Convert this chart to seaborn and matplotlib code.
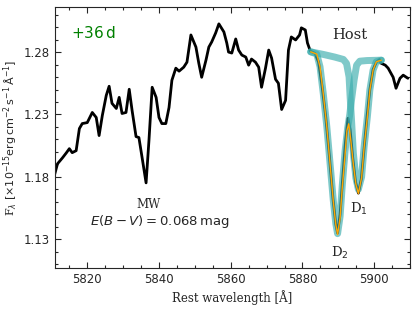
import numpy as np
import pandas as pd
import matplotlib
matplotlib.use("Agg")
import matplotlib.pyplot as plt
import seaborn as sns
from matplotlib.ticker import MultipleLocator

# observed spectrum (rest wavelength, flux)
wave = [5810.8, 5811.7, 5813.1, 5814.2, 5815.0, 5815.8, 5816.9, 5817.8, 5818.6, 5820.0,
        5821.4, 5822.5, 5823.3, 5824.2, 5825.3, 5826.1, 5826.9, 5828.1, 5828.9, 5829.7,
        5830.8, 5831.7, 5832.5, 5833.6, 5834.4, 5835.3, 5836.4, 5837.2, 5838.1, 5839.2,
        5840.0, 5840.8, 5841.9, 5842.8, 5843.6, 5844.7, 5845.6, 5846.9, 5847.8, 5848.9,
        5850.3, 5851.1, 5851.9, 5853.1, 5853.9, 5854.7, 5855.8, 5856.7, 5858.1, 5858.9,
        5859.4, 5860.3, 5861.4, 5862.2, 5863.1, 5864.2, 5865.0, 5865.8, 5866.9, 5867.8,
        5868.6, 5869.7, 5870.6, 5871.4, 5872.5, 5873.3, 5874.2, 5875.3, 5876.1, 5876.9,
        5878.1, 5879.2, 5879.7, 5880.8, 5881.4, 5882.2, 5883.5, 5884.5, 5885.5, 5886.5,
        5887.5, 5888.5, 5889.3, 5889.8, 5890.5, 5891.2, 5892.0, 5892.7, 5893.3, 5894.0,
        5894.8, 5895.6, 5896.4, 5897.2, 5898.0, 5898.8, 5899.7, 5900.6, 5901.5, 5901.9,
        5903.1, 5903.9, 5905.3, 5906.1, 5907.2, 5908.1, 5909.4]
flux = [1.1808, 1.1905, 1.1953, 1.1994, 1.2026, 1.1994, 1.2010, 1.2187, 1.2227, 1.2235,
        1.2316, 1.2276, 1.2131, 1.2292, 1.2453, 1.2526, 1.2389, 1.2348, 1.2437, 1.2308,
        1.2316, 1.2502, 1.2332, 1.2123, 1.2115, 1.1953, 1.1752, 1.2090, 1.2518, 1.2437,
        1.2276, 1.2227, 1.2227, 1.2356, 1.2574, 1.2671, 1.2647, 1.2679, 1.2719, 1.2937,
        1.2840, 1.2711, 1.2598, 1.2735, 1.2840, 1.2881, 1.2953, 1.3026, 1.2961, 1.2873,
        1.2800, 1.2792, 1.2905, 1.2816, 1.2776, 1.2760, 1.2695, 1.2744, 1.2719, 1.2679,
        1.2518, 1.2671, 1.2816, 1.2752, 1.2582, 1.2550, 1.2340, 1.2413, 1.2816, 1.2921,
        1.2897, 1.2937, 1.2994, 1.2977, 1.2873, 1.2808, 1.2790, 1.2720, 1.2520, 1.2280,
        1.1970, 1.1630, 1.1420, 1.1350, 1.1500, 1.1780, 1.2080, 1.2270, 1.2180, 1.1960,
        1.1760, 1.1670, 1.1780, 1.2030, 1.2280, 1.2500, 1.2660, 1.2720, 1.2740, 1.2711,
        1.2695, 1.2671, 1.2598, 1.2510, 1.2590, 1.2615, 1.2590]

# host Na I D fit: combined profile
fit_wave = [5882.3, 5884.0, 5884.9, 5885.8, 5886.8, 5887.7, 5888.6, 5889.3, 5889.8, 5890.5,
            5891.1, 5891.9, 5892.4, 5892.9, 5893.5, 5894.2, 5894.9, 5895.6, 5896.5, 5897.2,
            5898.1, 5898.8, 5899.7, 5900.6, 5902.0]
fit_flux = [1.2802, 1.2784, 1.2681, 1.2467, 1.2198, 1.1902, 1.1606, 1.1418, 1.1338, 1.1472,
            1.1714, 1.1983, 1.2171, 1.2225, 1.2090, 1.1902, 1.1741, 1.1666, 1.1794, 1.2036,
            1.2278, 1.2494, 1.2655, 1.2722, 1.2735]

# single components
d2_wave = [5882.3, 5884.0, 5884.9, 5885.8, 5886.8, 5887.7, 5888.6, 5889.3, 5889.8, 5890.5,
           5891.1, 5891.9, 5892.6, 5893.2, 5893.7, 5894.4, 5895.1, 5896.0, 5898.0, 5902.0]
d2_flux = [1.2802, 1.2784, 1.2683, 1.2470, 1.2202, 1.1908, 1.1612, 1.1425, 1.1345, 1.1482,
           1.1730, 1.2010, 1.2190, 1.2300, 1.2420, 1.2574, 1.2695, 1.2727, 1.2732, 1.2735]
d1_wave = [5882.3, 5886.0, 5889.0, 5891.4, 5892.3, 5893.0, 5893.3, 5893.7, 5894.2, 5894.9,
           5895.6, 5896.5, 5897.2, 5898.1, 5898.8, 5899.7, 5900.6, 5902.0]
d1_flux = [1.2802, 1.2780, 1.2760, 1.2741, 1.2709, 1.2601, 1.2440, 1.2250, 1.1990, 1.1790,
           1.1700, 1.1800, 1.2040, 1.2280, 1.2496, 1.2656, 1.2722, 1.2735]

sns.set_style("ticks")
plt.rcParams["font.family"] = ["DejaVu Serif"]
plt.rcParams["mathtext.fontset"] = "dejavusans"

fig = plt.figure(figsize=(4.15, 3.1), dpi=100)
ax = fig.add_axes([0.1325, 0.1355, 0.8555, 0.8415])

spec = pd.DataFrame({"wave": wave, "flux": flux})
sns.lineplot(data=spec, x="wave", y="flux", ax=ax, color="black", lw=2, sort=False, zorder=2)

teal = "#3aadad"
for w, f in [(d2_wave, d2_flux), (d1_wave, d1_flux)]:
    sns.lineplot(x=w, y=f, ax=ax, color=teal, lw=5, alpha=0.65, sort=False,
                 solid_capstyle="round", zorder=3)
sns.lineplot(x=fit_wave, y=fit_flux, ax=ax, color="orange", lw=1.0, sort=False, zorder=4)

ax.set_xlim(5811, 5910)
ax.set_ylim(1.107, 1.316)
ax.xaxis.set_major_locator(MultipleLocator(20))
ax.xaxis.set_minor_locator(MultipleLocator(5))
ax.yaxis.set_major_locator(MultipleLocator(0.05, offset=0.03))
ax.yaxis.set_minor_locator(MultipleLocator(0.01))
ax.tick_params(which="both", direction="in", top=True, right=True)
ax.tick_params(which="major", length=4.5, width=0.8, labelsize=8.5)
ax.tick_params(which="minor", length=2.5, width=0.8)
for lab in ax.get_xticklabels() + ax.get_yticklabels():
    lab.set_family("DejaVu Sans")

ax.set_xlabel("Rest wavelength [Å]", fontsize=8.5, labelpad=3)
ax.set_ylabel(r"F$_\lambda$ $[\times10^{-15}\mathrm{erg\,cm^{-2}\,s^{-1}\,\AA^{-1}}]$",
              fontsize=8, labelpad=3)

ax.text(0.045, 0.90, "+36$\\,$d", transform=ax.transAxes, color="green",
        fontsize=11, family="DejaVu Sans", va="center", ha="left")
ax.text(5893.3, 1.294, "Host", fontsize=10.5, ha="center", va="center")
ax.text(5837.0, 1.158, "MW", fontsize=8.5, ha="center", va="center")
ax.text(5840.2, 1.1445, r"$E(B-V) = 0.068\,\mathrm{mag}$", fontsize=9.5, ha="center", va="center")
ax.text(5895.8, 1.154, r"D$_1$", fontsize=9.5, ha="center", va="center")
ax.text(5890.3, 1.119, r"D$_2$", fontsize=9.5, ha="center", va="center")

fig.savefig("out.png", dpi=100)
